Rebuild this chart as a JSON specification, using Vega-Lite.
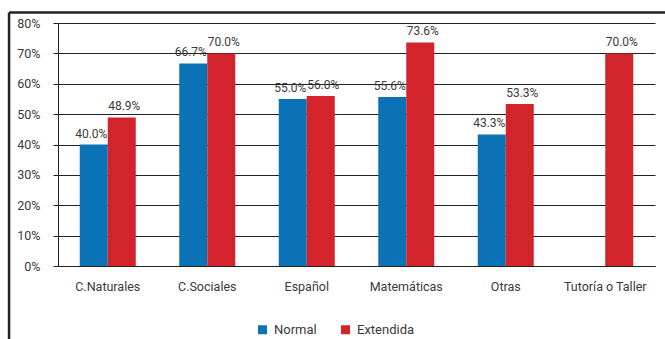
{
  "$schema": "https://vega.github.io/schema/vega-lite/v6.json",
  "width": 597,
  "height": 243,
  "autosize": "none",
  "padding": {"left": 58, "top": 23, "right": 10, "bottom": 73},
  "background": "#ffffff",
  "config": {
    "font": "Roboto",
    "view": {"stroke": null},
    "axis": {
      "labelColor": "#3a3a3a",
      "labelFont": "Roboto",
      "domainColor": "#222222",
      "domainWidth": 1,
      "tickColor": "#222222",
      "gridColor": "#222222",
      "gridOpacity": 1,
      "gridWidth": 1
    }
  },
  "datasets": {
    "scores": [
      {"area": "C.Naturales", "jornada": "Normal", "pct": 0.400},
      {"area": "C.Naturales", "jornada": "Extendida", "pct": 0.489},
      {"area": "C.Sociales", "jornada": "Normal", "pct": 0.667},
      {"area": "C.Sociales", "jornada": "Extendida", "pct": 0.700},
      {"area": "Español", "jornada": "Normal", "pct": 0.550},
      {"area": "Español", "jornada": "Extendida", "pct": 0.560},
      {"area": "Matemáticas", "jornada": "Normal", "pct": 0.556},
      {"area": "Matemáticas", "jornada": "Extendida", "pct": 0.736},
      {"area": "Otras", "jornada": "Normal", "pct": 0.433},
      {"area": "Otras", "jornada": "Extendida", "pct": 0.533},
      {"area": "Tutoría o Taller", "jornada": "Extendida", "pct": 0.700}
    ]
  },
  "layer": [
    {
      "data": {"name": "scores"},
      "encoding": {
        "x": {
          "field": "area",
          "type": "nominal",
          "sort": ["C.Naturales", "C.Sociales", "Español", "Matemáticas", "Otras", "Tutoría o Taller"],
          "scale": {"paddingInner": 0.437, "paddingOuter": 0.2185},
          "axis": {
            "title": null,
            "labelAngle": 0,
            "ticks": false,
            "grid": false,
            "labelFontSize": 12.5,
            "labelPadding": 14
          }
        },
        "xOffset": {
          "field": "jornada",
          "type": "nominal",
          "scale": {"domain": ["Normal", "Extendida"], "paddingInner": 0, "paddingOuter": 0}
        },
        "y": {
          "field": "pct",
          "type": "quantitative",
          "scale": {"domain": [0, 0.8], "nice": false},
          "axis": {
            "title": null,
            "values": [0, 0.1, 0.2, 0.3, 0.4, 0.5, 0.6, 0.7, 0.8],
            "format": ".0%",
            "grid": true,
            "tickSize": 5,
            "labelFontSize": 12.5,
            "labelPadding": 13
          }
        }
      },
      "layer": [
        {
          "mark": {"type": "bar"},
          "encoding": {
            "color": {
              "field": "jornada",
              "type": "nominal",
              "scale": {"domain": ["Normal", "Extendida"], "range": ["#0b72b5", "#d3232b"]},
              "legend": {
                "title": null,
                "orient": "none",
                "direction": "horizontal",
                "legendX": 198,
                "legendY": 300,
                "symbolType": "square",
                "symbolSize": 81,
                "symbolStrokeWidth": 0,
                "symbolOpacity": 1,
                "labelFontSize": 13,
                "labelColor": "#3a3a3a",
                "labelOffset": 5,
                "columnPadding": 22
              }
            }
          }
        },
        {
          "transform": [{"filter": "datum.jornada === 'Normal'"}],
          "mark": {"type": "text", "baseline": "bottom", "dy": -4, "dx": -2.5, "fontSize": 12, "color": "#3a3a3a"},
          "encoding": {
            "text": {"field": "pct", "type": "quantitative", "format": ".1%"}
          }
        },
        {
          "transform": [{"filter": "datum.jornada === 'Extendida'"}],
          "mark": {"type": "text", "baseline": "bottom", "dy": -4, "dx": 2.5, "fontSize": 12, "color": "#3a3a3a"},
          "encoding": {
            "text": {"field": "pct", "type": "quantitative", "format": ".1%"}
          }
        }
      ]
    },
    {
      "data": {"values": [{"frame": "border"}]},
      "layer": [
        {
          "mark": {"type": "rule", "strokeWidth": 2.5, "color": "#222222"},
          "encoding": {
            "x": {"datum": -0.082, "type": "quantitative", "scale": {"domain": [0, 1], "nice": false, "zero": false}, "axis": null},
            "x2": {"datum": 1.03},
            "y": {"datum": 0.8346, "type": "quantitative", "scale": {"domain": [0, 0.8], "nice": false}, "axis": null}
          }
        },
        {
          "mark": {"type": "rule", "strokeWidth": 2.5, "color": "#222222"},
          "encoding": {
            "x": {"datum": -0.082, "type": "quantitative"},
            "y": {"datum": 0.8346, "type": "quantitative"},
            "y2": {"datum": -0.3}
          }
        }
      ]
    }
  ],
  "resolve": {"scale": {"x": "independent", "y": "independent"}}
}
